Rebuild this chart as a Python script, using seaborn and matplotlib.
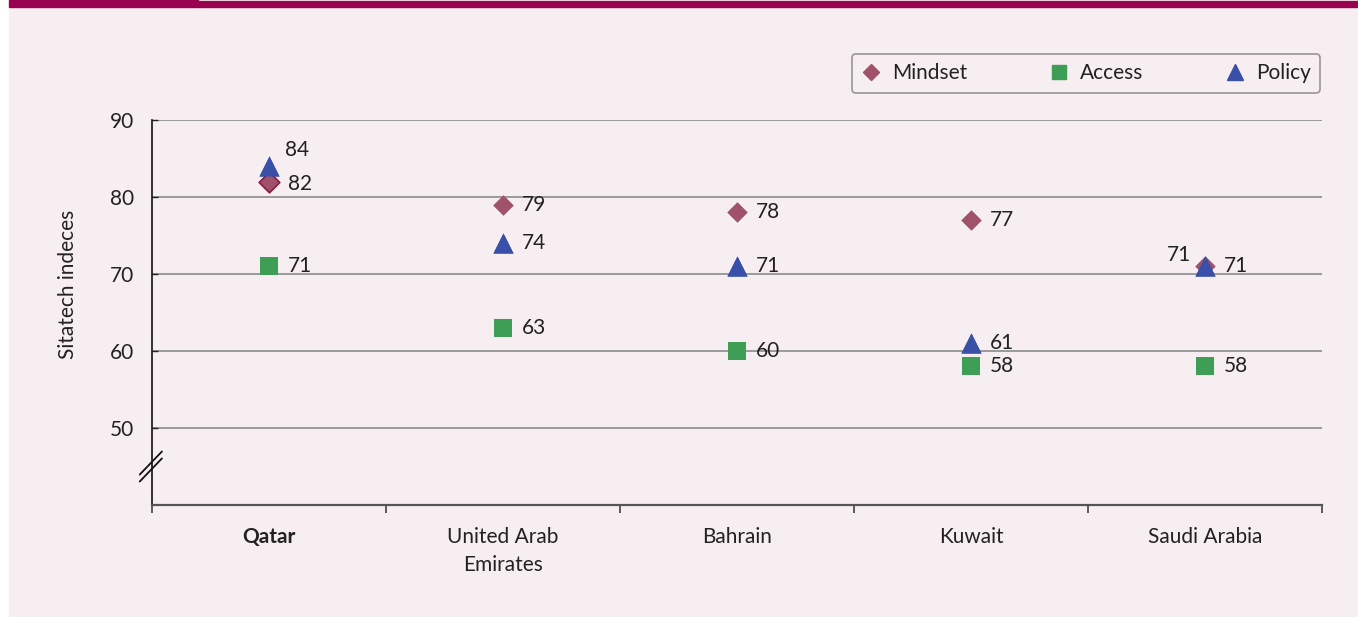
import numpy as np
import pandas as pd
import matplotlib
matplotlib.use("Agg")
import matplotlib.pyplot as plt
import matplotlib.transforms as mtransforms
from matplotlib.lines import Line2D
from matplotlib.patches import Rectangle
import seaborn as sns

# data
countries = ["Qatar", "United Arab\nEmirates", "Bahrain", "Kuwait", "Saudi Arabia"]
mindset = [82, 79, 78, 77, 71]
access = [71, 63, 60, 58, 58]
policy = [84, 74, 71, 61, 71]
series_names = ["Mindset", "Access", "Policy"]
y_ticks = [50, 60, 70, 80, 90]

# basic setting
sns.set_style("white")
plt.rcParams['font.family'] = ['Lato', 'DejaVu Sans']
plt.rcParams['font.size'] = 15

bg = "#f6eef0"
colors = {"Mindset": "#a0526a", "Access": "#3e9e55", "Policy": "#3a4fa8"}
markers = {"Mindset": "D", "Access": "s", "Policy": "^"}
sizes = {"Mindset": 110, "Access": 155, "Policy": 210}

df = pd.DataFrame({
    "Country": countries * 3,
    "Pos": list(range(len(countries))) * 3,
    "Series": sum([[s] * len(countries) for s in series_names], []),
    "Value": mindset + access + policy,
})

fig = plt.figure(figsize=(13.58, 6.17), dpi=100, facecolor="white")
# pink panel and magenta top bar
fig.patches.append(Rectangle((9 / 1358, 0), 1 - 9 / 1358, 1 - 7 / 617,
                             transform=fig.transFigure, color=bg, zorder=-10))
fig.patches.append(Rectangle((9 / 1358, 1 - 7 / 617), (198 - 9) / 1358, 7 / 617,
                             transform=fig.transFigure, color="#990050", zorder=-9))
fig.patches.append(Rectangle((198 / 1358, 1 - 7 / 617), 1, 6 / 617,
                             transform=fig.transFigure, color="#990050", zorder=-9))

ax = fig.add_axes([152 / 1358, 1 - 505 / 617, 1170 / 1358, 385 / 617])
ax.set_facecolor("none")

for s in series_names:
    sub = df[df["Series"] == s]
    sns.scatterplot(data=sub, x="Pos", y="Value", marker=markers[s], s=sizes[s],
                    color=colors[s], linewidth=0, ax=ax, zorder=3)

# Qatar mindset diamond has a darker outline
ax.scatter([0], [mindset[0]], marker="D", s=sizes["Mindset"], facecolor=colors["Mindset"],
           edgecolor="#8a1a42", linewidth=1.2, zorder=3.5)
# policy drawn on top
sub = df[df["Series"] == "Policy"]
ax.scatter(sub["Pos"], sub["Value"], marker="^", s=sizes["Policy"], color=colors["Policy"],
           linewidth=0, zorder=4)

# value labels
offsets = {("Policy", 0): (11.5, 12, "left"),
           ("Mindset", 0): (13.5, -2, "left"),
           ("Mindset", 4): (-10, 8, "right")}
for _, r in df.iterrows():
    dx, dy, ha = offsets.get((r["Series"], r["Pos"]), (13.7, 0, "left"))
    ax.annotate(f"{r['Value']}", (r["Pos"], r["Value"]), xytext=(dx, dy),
                textcoords="offset points", ha=ha, va="center", fontsize=15,
                color="#222222", zorder=5)

ax.set_xlim(-0.5, len(countries) - 0.5)
ax.set_ylim(40, 90)
ax.set_yticks(y_ticks)
ax.set_xticks(range(len(countries)))
ax.set_xticklabels(countries, fontsize=15, color="#222222", linespacing=1.5)
ax.get_xticklabels()[0].set_fontweight("bold")
ax.set_xticks(np.arange(-0.5, len(countries), 1), minor=True)
ax.tick_params(axis="x", which="major", bottom=True, length=0, pad=16)
ax.tick_params(axis="x", which="minor", bottom=True, length=6, width=1.1,
               direction="out", color="#333333")
ax.tick_params(axis="y", left=True, length=4.5, width=1, direction="in", color="#222222",
               pad=13, labelsize=15, labelcolor="#222222")
ax.set_xlabel("")
ax.set_ylabel("Sitatech indeces", fontsize=15, color="#222222")
ax.yaxis.set_label_coords(-0.063, 0.574)

ax.yaxis.grid(True, color="#8c8c8c", linewidth=1.2)
ax.set_axisbelow(True)
for side in ["top", "right"]:
    ax.spines[side].set_visible(False)
ax.spines["left"].set_color("#111111")
ax.spines["left"].set_linewidth(1.2)
ax.spines["bottom"].set_color("#555555")
ax.spines["bottom"].set_linewidth(1.6)

# axis break mark
trans = mtransforms.blended_transform_factory(ax.transAxes, ax.transData)
for off in [-0.45, 0.45]:
    ax.plot([-0.0105, 0.0085], [45 - 1.5 + off, 45 + 1.5 + off], transform=trans,
            color="#111111", lw=1.3, clip_on=False, zorder=6)

handles = [Line2D([], [], marker=markers[s], color=colors[s], linestyle="none",
                  markersize={"Mindset": 8, "Access": 10, "Policy": 11}[s]) for s in series_names]
leg = fig.legend(handles, series_names, loc="upper right", bbox_to_anchor=(1320 / 1358, 1 - 54 / 617),
                 ncol=3, frameon=True, fancybox=True, fontsize=15, handlelength=1.0,
                 handletextpad=0.5, columnspacing=3.9, borderaxespad=0, borderpad=0.45)
leg.get_frame().set_edgecolor("#808080")
leg.get_frame().set_facecolor(bg)
leg.get_frame().set_linewidth(1.2)
for t in leg.get_texts():
    t.set_color("#222222")

fig.savefig("out.png", dpi=100, facecolor=fig.get_facecolor())
